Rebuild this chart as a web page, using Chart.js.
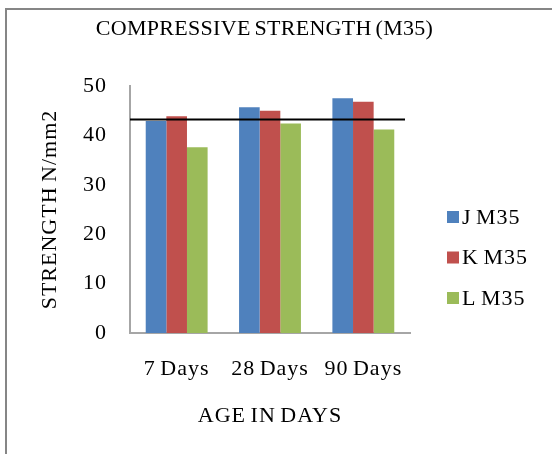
<!DOCTYPE html>
<html>
<head>
<meta charset="utf-8">
<script src="https://cdn.jsdelivr.net/npm/chart.js@4/dist/chart.umd.min.js"></script>
<style>
  html, body { margin: 0; padding: 0; background: #ffffff; }
  #wrap { width: 552px; height: 454px; }
</style>
</head>
<body>
<div id="wrap"><canvas id="c" width="552" height="454"></canvas></div>
<script>
// Compressive strength of M35 mixes at different ages
const categories = ['7 Days', '28 Days', '90 Days'];
const seriesNames = ['J M35', 'K M35', 'L M35'];
const jValues = [42.9, 45.7, 47.5];
const kValues = [43.9, 45.0, 46.8];
const lValues = [37.6, 42.4, 41.2];
const yTicks = [0, 10, 20, 30, 40, 50];
const targetStrength = 43.2;
const chartTitle = 'COMPRESSIVE STRENGTH (M35)';

const FONT = 'Liberation Serif, Times New Roman, serif';
const colors = ['#4F81BD', '#C0504D', '#9BBB59'];
const axisGray = '#a6a6a6';

// White background, outer frame and the chart heading
const framePlugin = {
  id: 'frame',
  beforeDraw(chart) {
    const ctx = chart.ctx;
    ctx.save();
    ctx.fillStyle = '#ffffff';
    ctx.fillRect(0, 0, chart.width, chart.height);
    ctx.strokeStyle = '#868686';
    ctx.lineWidth = 2;
    ctx.strokeRect(6, 9, 700, 600);
    ctx.fillStyle = '#000000';
    ctx.font = '22px ' + FONT;
    ctx.textAlign = 'center';
    ctx.textBaseline = 'middle';
    if ('wordSpacing' in ctx) ctx.wordSpacing = '-2px';
    if ('letterSpacing' in ctx) ctx.letterSpacing = '0.3px';
    ctx.fillText(chartTitle, 264.5, 29.5);
    ctx.restore();
    // slightly open letter spacing, tight word spacing for axis and legend text
    if ('letterSpacing' in ctx) ctx.letterSpacing = '1px';
    if ('wordSpacing' in ctx) ctx.wordSpacing = '-2px';
  }
};

// Horizontal reference line at the target strength
const targetLinePlugin = {
  id: 'targetLine',
  afterDatasetsDraw(chart) {
    const { ctx, chartArea, scales } = chart;
    const y = scales.y.getPixelForValue(targetStrength);
    ctx.save();
    ctx.strokeStyle = '#000000';
    ctx.lineWidth = 2;
    ctx.beginPath();
    ctx.moveTo(chartArea.left, y);
    ctx.lineTo(chartArea.right - 5, y);
    ctx.stroke();
    ctx.restore();
  }
};

// Legend on the right, built from the datasets
const sideLegendPlugin = {
  id: 'sideLegend',
  afterDraw(chart) {
    const ctx = chart.ctx;
    const x = chart.chartArea.right + 37;
    const y0 = 217, step = 40.5, box = 12;
    ctx.save();
    ctx.font = '22px ' + FONT;
    ctx.textBaseline = 'middle';
    ctx.textAlign = 'left';
    chart.data.datasets.forEach((ds, i) => {
      const cy = y0 + i * step;
      ctx.fillStyle = ds.backgroundColor;
      ctx.fillRect(x, cy - box / 2, box, box);
      ctx.fillStyle = '#000000';
      ctx.fillText(ds.label, x + box + 3, cy + 1);
    });
    ctx.restore();
  }
};

const datasets = [jValues, kValues, lValues].map((vals, i) => ({
  label: seriesNames[i],
  data: vals,
  backgroundColor: colors[i],
  borderWidth: 0,
  categoryPercentage: 0.663,
  barPercentage: 1.0
}));

new Chart(document.getElementById('c'), {
  type: 'bar',
  data: { labels: categories, datasets },
  plugins: [framePlugin, targetLinePlugin, sideLegendPlugin],
  options: {
    responsive: false,
    animation: false,
    layout: { padding: { left: 0, right: 142, top: 86, bottom: 0 } },
    plugins: {
      legend: { display: false },
      tooltip: { enabled: false },
      title: { display: false }
    },
    scales: {
      x: {
        grid: { display: false, drawTicks: false },
        border: { display: true, color: axisGray, width: 2 },
        ticks: { color: '#000000', font: { family: FONT, size: 22 }, padding: 23 },
        title: {
          display: true,
          text: 'AGE IN DAYS',
          color: '#000000',
          font: { family: FONT, size: 22 },
          padding: { top: 0, bottom: 25 }
        },
        afterFit(scale) { scale.height = 121; }
      },
      y: {
        min: yTicks[0],
        max: yTicks[yTicks.length - 1],
        afterBuildTicks(scale) { scale.ticks = yTicks.map(v => ({ value: v })); },
        grid: { display: false, drawTicks: false },
        border: { display: true, color: axisGray, width: 2 },
        ticks: { color: '#000000', font: { family: FONT, size: 22 }, padding: 23 },
        title: {
          display: true,
          text: 'STRENGTH N/mm2',
          color: '#000000',
          font: { family: FONT, size: 22 },
          padding: { top: 36.8, bottom: 0 }
        },
        afterFit(scale) { scale.width = 130; }
      }
    }
  }
});
</script>
</body>
</html>
